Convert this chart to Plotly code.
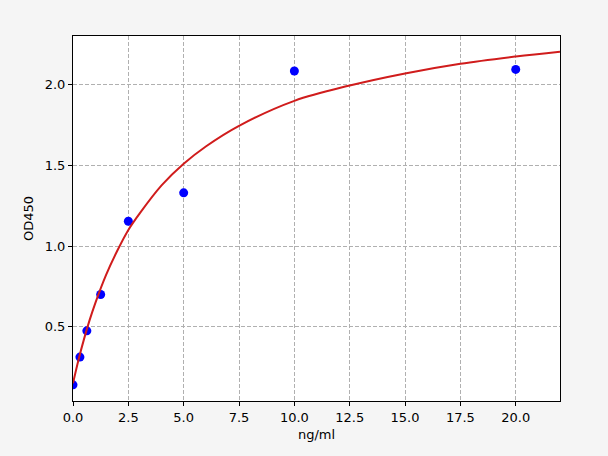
import plotly.graph_objects as go

# standard points (ng/ml, OD450)
conc = [0, 0.3125, 0.625, 1.25, 2.5, 5, 10, 20]
od = [0.14, 0.312, 0.475, 0.70, 1.154, 1.33, 2.085, 2.095]

# fitted curve
curve_x = [0, 0.25, 0.5, 0.75, 1, 1.5, 2, 2.5, 3, 4, 5, 6, 7.5, 10, 12.5, 15, 17.5, 20, 22]
curve_y = [0.15, 0.296, 0.425, 0.541, 0.644, 0.823, 0.971, 1.10, 1.20, 1.376, 1.51,
           1.617, 1.745, 1.90, 1.995, 2.07, 2.13, 2.175, 2.205]

x_ticks = [0, 2.5, 5, 7.5, 10, 12.5, 15, 17.5, 20]
y_ticks = [0.5, 1.0, 1.5, 2.0]

fig = go.Figure()
fig.add_trace(go.Scatter(x=conc, y=od, mode="markers",
                         marker=dict(color="#0000ff", size=9, line=dict(width=0)),
                         cliponaxis=True, showlegend=False))
fig.add_trace(go.Scatter(x=curve_x, y=curve_y, mode="lines", line_shape="spline",
                         line=dict(color="#d01c1c", width=2), showlegend=False))

axis_style = dict(
    showline=True, linecolor="black", linewidth=1, mirror=True,
    ticks="outside", ticklen=4, tickcolor="black", tickwidth=1,
    showgrid=True, gridcolor="#b0b0b0", griddash="4px,2px", gridwidth=1,
    zeroline=False, tickfont=dict(size=13, color="black"),
    title_font=dict(size=13, color="black"), automargin=False,
)

fig.update_xaxes(range=[0, 22], tickvals=x_ticks, tickformat=".1f",
                 title_text="ng/ml", title_standoff=6, **axis_style)
fig.update_yaxes(range=[0.04, 2.302], tickvals=y_ticks, tickformat=".1f",
                 title_text="OD450", title_standoff=8, **axis_style)

fig.update_layout(
    width=608, height=456,
    margin=dict(l=73, r=48, t=36, b=55),
    paper_bgcolor="#f5f5f5", plot_bgcolor="white",
    font=dict(family="DejaVu Sans", color="black"),
)

# drop the browser's default body margin so the figure sits at 0,0
fig.write_html("out.html", config={"displayModeBar": False},
               post_script="document.body.style.margin='0';")
